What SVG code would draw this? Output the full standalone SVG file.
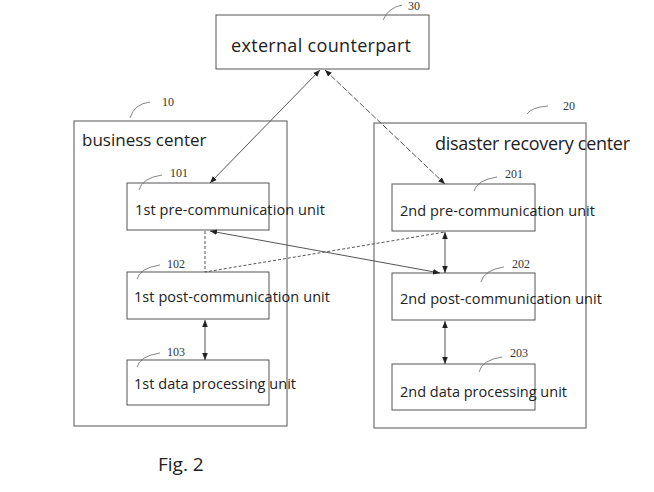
<svg xmlns="http://www.w3.org/2000/svg" width="654" height="492" viewBox="0 0 654 492">
<defs>
<marker id="a" viewBox="0 0 10 10" refX="10" refY="5" markerWidth="7" markerHeight="7" orient="auto-start-reverse"><path d="M0,1 L10,5 L0,9 z" fill="#222"/></marker>
</defs>
<style>
.box{fill:#fff;stroke:#555;stroke-width:1}
.t{font-family:"Open Sans","Liberation Sans",sans-serif;fill:#222}
.u{font-size:14.5px}
.n{font-family:"Liberation Serif",serif;font-size:12px;fill:#333}
.ld{fill:none;stroke:#666;stroke-width:0.8}
.c{fill:none;stroke:#555;stroke-width:1}
</style>
<rect width="654" height="492" fill="#fff"/>
<g id="external">
<rect class="box" x="216" y="15" width="213" height="54"/>
<text class="t" x="231" y="52" font-size="18" textLength="180">external counterpart</text>
<path class="ld" d="M383,20 Q388,8 402,5"/>
<text class="n" x="408" y="10">30</text>
</g>
<g id="business">
<rect class="box" x="74" y="121" width="213" height="305"/>
<text class="t" x="82" y="146" font-size="17">business center</text>
<path class="ld" d="M130,118 Q134,104 150,102"/><text class="n" x="162" y="106">10</text>
</g>
<g id="disaster">
<rect class="box" x="374" y="123" width="212" height="305"/>
<text class="t" x="435" y="150" font-size="18" textLength="195">disaster recovery center</text>
<path class="ld" d="M527,114 Q532,107 548,106"/><text class="n" x="563" y="110">20</text>
</g>
<g id="u101"><rect class="box" x="127" y="183" width="142" height="47"/><text class="t u" x="135" y="215" textLength="190">1st pre-communication unit</text><path class="ld" d="M139,190 Q142,178 162,175"/><text class="n" x="170" y="177">101</text></g>
<g id="u102"><rect class="box" x="127" y="272" width="142" height="47"/><text class="t u" x="134" y="302" textLength="196">1st post-communication unit</text><path class="ld" d="M137,279 Q140,268 160,265"/><text class="n" x="167" y="268">102</text></g>
<g id="u103"><rect class="box" x="127" y="360" width="142" height="45"/><text class="t u" x="134" y="389" textLength="162">1st data processing unit</text><path class="ld" d="M137,367 Q140,356 160,353"/><text class="n" x="167" y="356">103</text></g>
<g id="u201"><rect class="box" x="392" y="184" width="143" height="47"/><text class="t u" x="400" y="216" textLength="195">2nd pre-communication unit</text><path class="ld" d="M474,191 Q477,180 497,177"/><text class="n" x="505" y="178">201</text></g>
<g id="u202"><rect class="box" x="392" y="273" width="143" height="47"/><text class="t u" x="400" y="304" textLength="202">2nd post-communication unit</text><path class="ld" d="M481,282 Q484,270 504,267"/><text class="n" x="512" y="268">202</text></g>
<g id="u203"><rect class="box" x="392" y="364" width="143" height="46"/><text class="t u" x="400" y="397" textLength="167">2nd data processing unit</text><path class="ld" d="M479,372 Q482,360 502,357"/><text class="n" x="510" y="357">203</text></g>
<g id="connectors">
<line class="c" x1="320" y1="70" x2="210" y2="183" marker-start="url(#a)" marker-end="url(#a)"/>
<line class="c" x1="325" y1="70" x2="445" y2="184" stroke-dasharray="6,2" marker-start="url(#a)" marker-end="url(#a)"/>
<line class="c" x1="210" y1="231" x2="440" y2="273" marker-start="url(#a)" marker-end="url(#a)"/>
<polyline class="c" points="205,231 205,272 445,232" stroke-dasharray="3,2"/>
<line class="c" x1="445" y1="232" x2="445" y2="273" marker-start="url(#a)" marker-end="url(#a)"/>
<line class="c" x1="205" y1="320" x2="205" y2="360" marker-start="url(#a)" marker-end="url(#a)"/>
<line class="c" x1="445" y1="321" x2="445" y2="364" marker-start="url(#a)" marker-end="url(#a)"/>
</g>
<text class="t" x="158" y="471" font-size="19">Fig. 2</text>
</svg>
